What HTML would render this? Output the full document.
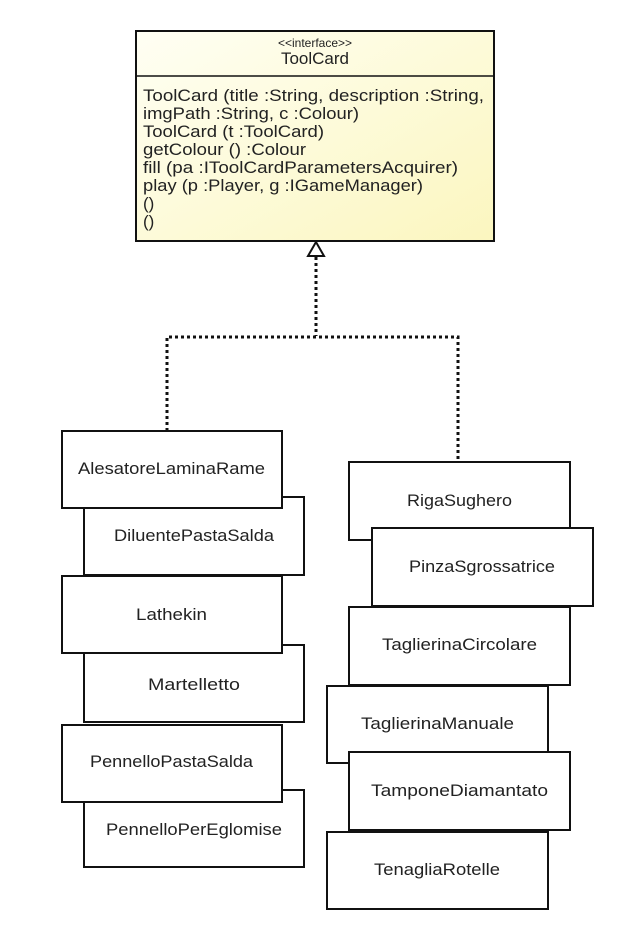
<!DOCTYPE html>
<html><head><meta charset="utf-8"><style>html,body{margin:0;padding:0;background:#fff}</style></head>
<body>
<svg width="626" height="940" xmlns="http://www.w3.org/2000/svg" font-family="Liberation Sans, DejaVu Sans, sans-serif" fill="#222">
<defs><linearGradient id="g" x1="0" y1="0" x2="1" y2="1"><stop offset="0" stop-color="#fffff4"/><stop offset="1" stop-color="#fbf6bf"/></linearGradient></defs>
<rect x="136" y="31" width="358" height="210" fill="url(#g)" stroke="#111" stroke-width="2"/>
<line x1="136" y1="76" x2="494" y2="76" stroke="#111" stroke-width="1.5"/>
<text x="315" y="47" font-size="12" text-anchor="middle">&lt;&lt;interface&gt;&gt;</text>
<text x="315" y="64" font-size="17" text-anchor="middle">ToolCard</text>
<g font-size="17">
<text x="143" y="101" textLength="341" lengthAdjust="spacingAndGlyphs">ToolCard (title :String, description :String,</text>
<text x="143" y="119" textLength="216" lengthAdjust="spacingAndGlyphs">imgPath :String, c :Colour)</text>
<text x="143" y="137" textLength="181" lengthAdjust="spacingAndGlyphs">ToolCard (t :ToolCard)</text>
<text x="143" y="155" textLength="163" lengthAdjust="spacingAndGlyphs">getColour () :Colour</text>
<text x="143" y="173" textLength="315" lengthAdjust="spacingAndGlyphs">fill (pa :IToolCardParametersAcquirer)</text>
<text x="143" y="191" textLength="280" lengthAdjust="spacingAndGlyphs">play (p :Player, g :IGameManager)</text>
<text x="143" y="209">()</text>
<text x="143" y="227">()</text>
</g>
<g fill="none" stroke="#111" stroke-width="3" stroke-dasharray="3,3">
<polyline points="316,257 316,336"/>
<polyline points="167,431 167,337 458,337 458,462"/>
</g>
<polygon points="316,242 308,256 324,256" fill="#fff" stroke="#111" stroke-width="2"/>
<g stroke="#111" stroke-width="2" fill="#fff">
<rect x="84" y="497" width="220" height="78"/>
<rect x="62" y="431" width="220" height="77"/>
<rect x="84" y="645" width="220" height="77"/>
<rect x="62" y="576" width="220" height="77"/>
<rect x="84" y="790" width="220" height="77"/>
<rect x="62" y="725" width="220" height="77"/>
<rect x="349" y="462" width="221" height="78"/>
<rect x="372" y="528" width="221" height="78"/>
<rect x="349" y="607" width="221" height="78"/>
<rect x="327" y="686" width="221" height="77"/>
<rect x="349" y="752" width="221" height="78"/>
<rect x="327" y="832" width="221" height="77"/>
</g>
<g font-size="17">
<text x="78" y="474" textLength="187" lengthAdjust="spacingAndGlyphs">AlesatoreLaminaRame</text>
<text x="114" y="541" textLength="160" lengthAdjust="spacingAndGlyphs">DiluentePastaSalda</text>
<text x="136" y="620" textLength="71" lengthAdjust="spacingAndGlyphs">Lathekin</text>
<text x="148" y="690" textLength="92" lengthAdjust="spacingAndGlyphs">Martelletto</text>
<text x="90" y="767" textLength="163" lengthAdjust="spacingAndGlyphs">PennelloPastaSalda</text>
<text x="106" y="835" textLength="176" lengthAdjust="spacingAndGlyphs">PennelloPerEglomise</text>
<text x="407" y="506" textLength="105" lengthAdjust="spacingAndGlyphs">RigaSughero</text>
<text x="409" y="572" textLength="146" lengthAdjust="spacingAndGlyphs">PinzaSgrossatrice</text>
<text x="382" y="650" textLength="155" lengthAdjust="spacingAndGlyphs">TaglierinaCircolare</text>
<text x="361" y="729" textLength="153" lengthAdjust="spacingAndGlyphs">TaglierinaManuale</text>
<text x="371" y="796" textLength="177" lengthAdjust="spacingAndGlyphs">TamponeDiamantato</text>
<text x="374" y="875" textLength="126" lengthAdjust="spacingAndGlyphs">TenagliaRotelle</text>
</g>
</svg>
</body></html>
